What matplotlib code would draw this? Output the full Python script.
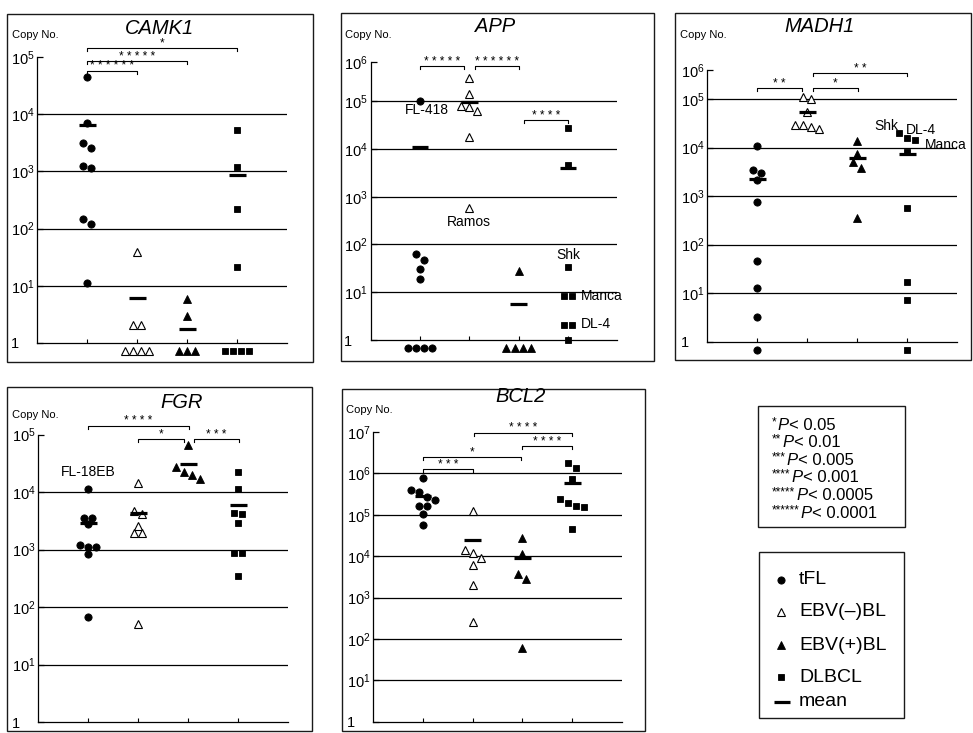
import numpy as np
import matplotlib
matplotlib.use("Agg")
import matplotlib.pyplot as plt
from matplotlib.patches import Rectangle
from matplotlib.lines import Line2D
from matplotlib.ticker import NullLocator
from matplotlib.transforms import offset_copy

plt.rcParams["font.family"] = ["Liberation Sans", "DejaVu Sans"]
plt.rcParams["mathtext.fontset"] = "custom"
plt.rcParams["mathtext.rm"] = "Liberation Sans"
plt.rcParams["mathtext.it"] = "Liberation Sans:italic"

W, H = 973, 733

# Copy numbers per group, 0 = not detected (drawn below the axis)
groups = ["tFL", "EBV(–)BL", "EBV(+)BL", "DLBCL"]

camk1_tfl = [44000, 7000, 3100, 2600, 1250, 1130, 145, 120, 11]
camk1_ebvneg = [39, 2.05, 2.05, 0, 0, 0, 0]
camk1_ebvpos = [5.8, 3.0, 0, 0, 0]
camk1_dlbcl = [5400, 1200, 220, 21, 0, 0, 0, 0]

app_tfl = [100000, 62, 47, 30, 19, 0, 0, 0, 0]
app_ebvneg = [310000, 140000, 78000, 75000, 63000, 18000, 570]
app_ebvpos = [28, 0, 0, 0, 0]
app_dlbcl = [27000, 4500, 33, 8.3, 8.3, 2.1, 2.1, 1.0]

madh1_tfl = [11000, 3400, 3000, 2200, 770, 46, 13, 3.3, 0]
madh1_ebvneg = [110000, 100000, 53000, 29000, 29000, 27000, 24000]
madh1_ebvpos = [14000, 7400, 5000, 3800, 350]
madh1_dlbcl = [20000, 16000, 14500, 8300, 580, 17, 7.2, 0]

fgr_tfl = [11500, 3600, 3600, 2800, 1200, 1120, 1120, 830, 66]
fgr_ebvneg = [14500, 4700, 4150, 2550, 1950, 1950, 50]
fgr_ebvpos = [66000, 27500, 22000, 20000, 17000]
fgr_dlbcl = [22000, 11500, 4400, 4100, 2850, 880, 880, 350]

bcl2_tfl = [780000, 400000, 360000, 270000, 230000, 160000, 160000, 107000, 56000]
bcl2_ebvneg = [125000, 14000, 11700, 9100, 6100, 2000, 260]
bcl2_ebvpos = [27000, 11000, 3700, 2750, 59]
bcl2_dlbcl = [1740000, 1320000, 720000, 240000, 195000, 162000, 150000, 45000]

# significance comparisons: (from, to, log10 height, stars)
camk1_sig = [(1, 4, 5.16, "*"), (1, 3, 4.93, "*****"), (1, 2, 4.76, "******")]
app_sig = [(1, 1.89, 5.73, "*****"), (2.12, 3.0, 5.73, "******"), (3.11, 4.0, 4.60, "****")]
madh1_sig = [(1, 1.9, 5.23, "**"), (2.12, 3.02, 5.23, "*"), (2.12, 4.0, 5.54, "**")]
fgr_sig = [(1, 3.02, 5.15, "****"), (2.0, 2.92, 4.92, "*"), (3.12, 4.02, 4.92, "***")]
bcl2_sig = [(2.03, 4.0, 6.98, "****"), (3.0, 4.0, 6.66, "****"), (1, 2.97, 6.40, "*"), (1, 2.0, 6.10, "***")]

# cell line labels: (text, x, log10 y, ha)
app_notes = [("FL-418", 1.14, 4.81, "center"), ("Ramos", 2.0, 2.47, "center"),
             ("Shk", 4.0, 1.78, "center"), ("Manca", 4.26, 0.92, "left"),
             ("DL-4", 4.26, 0.33, "left")]
madh1_notes = [("Shk", 3.58, 4.44, "center"), ("DL-4", 3.98, 4.37, "left"),
               ("Manca", 4.36, 4.05, "left")]
fgr_notes = [("FL-18EB", 1.0, 4.35, "center")]

p_stars = ["*", "**", "***", "****", "*****", "******"]
p_limits = ["0.05", "0.01", "0.005", "0.001", "0.0005", "0.0001"]

styles = [
    dict(marker="o", ms=5.2, mfc="k", mec="k", mew=0.6),
    dict(marker="^", ms=5.8, mfc="white", mec="k", mew=0.8),
    dict(marker="^", ms=6.3, mfc="k", mec="k", mew=0.6),
    dict(marker="s", ms=4.8, mfc="k", mec="k", mew=0.6),
]

fig = plt.figure(figsize=(W / 100, H / 100), dpi=100)


def fx(x):
    return x / W


def fy(y):
    return 1 - y / H


def box(l, t, r, b):
    fig.patches.append(Rectangle((fx(l), fy(b)), (r - l) / W, (b - t) / H,
                                 transform=fig.transFigure, fill=False,
                                 lw=1.0, ec="#1a1a1a"))


def dodge(vals, decade_px, thr=6.0, step=0.16):
    """reparte en horizontal los puntos que se pisan"""
    vals = np.asarray(vals, float)
    off = np.zeros(len(vals))
    if len(vals) == 0:
        return off
    lg = np.log10(vals)
    order = np.argsort(-lg, kind="stable")
    chunks, cur = [], [order[0]]
    for a, b in zip(order[:-1], order[1:]):
        if abs(lg[a] - lg[b]) * decade_px < thr:
            cur.append(b)
        else:
            chunks.append(cur)
            cur = [b]
    chunks.append(cur)
    for c in chunks:
        c = sorted(c)
        for i, idx in enumerate(c):
            off[idx] = (i - (len(c) - 1) / 2) * step
    return off


def panel(frame, geom, title, tpos, cpos, series, top_exp, ymax, sig, notes):
    box(*frame)
    l, t, r, b = geom
    ax = fig.add_axes([fx(l), fy(b), (r - l) / W, (b - t) / H])
    ax.set_facecolor("none")
    ax.set_yscale("log")
    ax.set_ylim(1, ymax)
    ax.set_xlim(0, 5)
    for s in ["top", "right"]:
        ax.spines[s].set_visible(False)
    for s in ["left", "bottom"]:
        ax.spines[s].set_linewidth(0.9)
    decade_px = (b - t) / np.log10(ymax)

    ticks = [10.0 ** k for k in range(top_exp)] + [ymax]
    labels = ["1"] + [r"$\mathregular{10^{%d}}$" % k for k in range(1, top_exp + 1)]
    ax.set_yticks(ticks)
    ax.set_yticklabels(labels)
    ax.yaxis.set_minor_locator(NullLocator())
    ax.tick_params(axis="y", direction="in", length=4, width=0.9, pad=19, labelsize=10.5)
    for lab in ax.get_yticklabels():
        lab.set_horizontalalignment("left")
    ax.set_xticks([1, 2, 3, 4])
    ax.set_xticklabels([])
    ax.tick_params(axis="x", direction="in", length=3, width=0.8)

    for k in range(1, top_exp):
        ax.axhline(10.0 ** k, color="k", lw=0.9, zorder=1)

    below = offset_copy(ax.transData, fig=fig, y=-6, units="points")
    for i, vals in enumerate(series):
        vals = np.asarray(vals, float)
        xc = i + 1
        det = vals[vals > 0]
        nd = int((vals <= 0).sum())
        ax.plot(xc + dodge(det, decade_px), det, ls="none", clip_on=False,
                zorder=3, **styles[i])
        if nd:
            xs = xc + (np.arange(nd) - (nd - 1) / 2) * 0.165
            ax.plot(xs, np.ones(nd), ls="none", clip_on=False, zorder=3,
                    transform=below, **styles[i])
        m = vals.mean()
        ax.plot([xc - 0.17, xc + 0.17], [m, m], color="k", lw=2.3,
                solid_capstyle="butt", zorder=4, clip_on=False)

    drop = 3.0 / decade_px
    for x1, x2, ly, stars in sig:
        y, yd = 10 ** ly, 10 ** (ly - drop)
        ax.plot([x1, x1, x2, x2], [yd, y, y, yd], color="k", lw=0.8,
                clip_on=False, zorder=2)
        ax.annotate(" ".join(stars), ((x1 + x2) / 2, y), xytext=(0, 1),
                    textcoords="offset points", ha="center", va="baseline",
                    fontsize=8.5, annotation_clip=False)

    for txt, x, ly, ha in notes:
        ax.text(x, 10 ** ly, txt, ha=ha, va="center", fontsize=10, clip_on=False)

    fig.text(fx(tpos[0]), fy(tpos[1]), title, ha="center", va="center",
             fontsize=14.5, style="italic")
    fig.text(fx(cpos[0]), fy(cpos[1]), "Copy No.", ha="left", va="center",
             fontsize=8)
    return ax


panel((7, 14, 313, 362), (37, 57, 287, 343), "CAMK1", (160, 29), (12, 35),
      [camk1_tfl, camk1_ebvneg, camk1_ebvpos, camk1_dlbcl], 5, 1e5, camk1_sig, [])
panel((341, 13, 654, 361), (370.7, 62, 617.2, 340), "APP", (495, 26), (345, 35),
      [app_tfl, app_ebvneg, app_ebvpos, app_dlbcl], 6, 10 ** 5.82, app_sig, app_notes)
panel((675, 13, 971, 360), (707, 70, 957, 341.7), "MADH1", (820, 27), (680, 35),
      [madh1_tfl, madh1_ebvneg, madh1_ebvpos, madh1_dlbcl], 6, 10 ** 5.6, madh1_sig, madh1_notes)
panel((7, 387, 312, 731), (38, 434.5, 288, 722), "FGR", (182, 402), (12, 415),
      [fgr_tfl, fgr_ebvneg, fgr_ebvpos, fgr_dlbcl], 5, 1e5, fgr_sig, fgr_notes)
panel((342, 389, 645, 731), (373.3, 432, 621.8, 721.7), "BCL2", (521, 396), (346, 410),
      [bcl2_tfl, bcl2_ebvneg, bcl2_ebvpos, bcl2_dlbcl], 7, 1e7, bcl2_sig, [])

# caja de valores P
box(758, 406, 905, 527)
renderer = fig.canvas.get_renderer()
for k, (stars, lim) in enumerate(zip(p_stars, p_limits)):
    y = 425 + k * 17.6
    t1 = fig.text(fx(772), fy(y - 3), stars, fontsize=8.5, ha="left", va="center")
    w1 = t1.get_window_extent(renderer).width
    t2 = fig.text(fx(772 + w1 + 1), fy(y), "P", fontsize=12, style="italic",
                  ha="left", va="center")
    w2 = t2.get_window_extent(renderer).width
    fig.text(fx(772 + w1 + w2 + 1.5), fy(y), "< " + lim, fontsize=12,
             ha="left", va="center")

# leyenda de grupos
box(759, 552, 904, 718)
leg_y = [580, 612, 645, 677]
for name, yy, st in zip(groups, leg_y, styles):
    fig.add_artist(Line2D([fx(781)], [fy(yy)], transform=fig.transFigure,
                          ls="none", **st))
    fig.text(fx(799), fy(yy), name, fontsize=14, ha="left", va="center")
fig.add_artist(Line2D([fx(774), fx(790)], [fy(702), fy(702)],
                      transform=fig.transFigure, color="k", lw=2.3,
                      solid_capstyle="butt"))
fig.text(fx(799), fy(702), "mean", fontsize=14, ha="left", va="center")

fig.savefig("out.png", dpi=100)
